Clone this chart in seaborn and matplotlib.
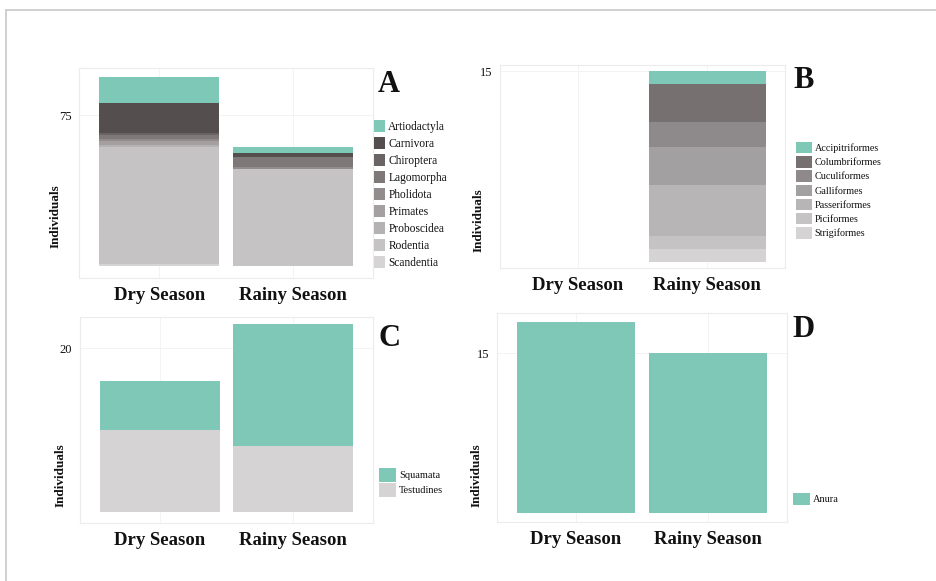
import matplotlib
matplotlib.use("Agg")
import matplotlib.pyplot as plt
import seaborn as sns
import pandas as pd
from matplotlib.lines import Line2D

# ---------------- data ----------------
seasons = ["Dry Season", "Rainy Season"]

mammal_orders = ["Artiodactyla", "Carnivora", "Chiroptera", "Lagomorpha", "Pholidota",
                 "Primates", "Proboscidea", "Rodentia", "Scandentia"]
mammal_dry = [13, 15, 1, 2, 1, 2, 1, 58, 1]
mammal_rainy = [3, 2, 0, 5, 1, 0, 0, 48, 0]
mammal_colors = ["#7dc8b6", "#544e4f", "#6b6465", "#7f7879", "#928c8d",
                 "#a4a0a1", "#b5b2b3", "#c6c3c4", "#d6d4d5"]

bird_orders = ["Accipitriformes", "Columbriformes", "Cuculiformes", "Galliformes",
               "Passeriformes", "Piciformes", "Strigiformes"]
bird_dry = [0, 0, 0, 0, 0, 0, 0]
bird_rainy = [1, 3, 2, 3, 4, 1, 1]
bird_colors = ["#7dc8b6", "#767071", "#8e898a", "#a3a0a1", "#b8b5b6", "#c6c3c4", "#d5d3d4"]

reptile_orders = ["Squamata", "Testudines"]
reptile_dry = [6, 10]
reptile_rainy = [15, 8]
reptile_colors = ["#7fc8b7", "#d5d3d4"]

amphib_orders = ["Anura"]
amphib_dry = [18]
amphib_rainy = [15]
amphib_colors = ["#7fc8b7"]

panel_letters = ["A", "B", "C", "D"]
yticks_panels = [[75], [15], [20], [15]]


def long_df(orders, dry, rainy):
    rows = []
    for o, d, r in zip(orders, dry, rainy):
        rows.append({"season": seasons[0], "order": o, "count": d})
        rows.append({"season": seasons[1], "order": o, "count": r})
    return pd.DataFrame(rows)


sns.set_theme(style="white")
SERIF = ["Liberation Serif", "DejaVu Serif"]
plt.rcParams["font.family"] = SERIF
plt.rcParams["text.color"] = "#111111"
plt.rcParams["xtick.color"] = "#cccccc"
plt.rcParams["ytick.color"] = "#cccccc"
plt.rcParams["xtick.labelcolor"] = "#111111"
plt.rcParams["ytick.labelcolor"] = "#111111"
plt.rcParams["axes.labelcolor"] = "#111111"

fig = plt.figure(figsize=(9.36, 5.81), dpi=100)
W, H = 936, 581


def px_axes(x0, y0, x1, y1):
    return fig.add_axes([x0 / W, 1 - y1 / H, (x1 - x0) / W, (y1 - y0) / H])


panels = [
    dict(box=(79, 68, 373, 278), ylim=(-5.96, 98.4), orders=mammal_orders, dry=mammal_dry,
         rainy=mammal_rainy, colors=mammal_colors, ylab=(-0.058, 0.295),
         leg=(1.003, 0.752), hl=0.95, hh=1.15, ls=0.38, fs=8.3, letter=(378, 92)),
    dict(box=(500, 65, 785, 268), ylim=(-0.5, 15.48), orders=bird_orders, dry=bird_dry,
         rainy=bird_rainy, colors=bird_colors, ylab=(-0.053, 0.236),
         leg=(1.040, 0.621), hl=1.5, hh=1.35, ls=0.28, fs=7.3, letter=(793, 88)),
    dict(box=(80, 317, 373, 523), ylim=(-1.38, 23.8), orders=reptile_orders, dry=reptile_dry,
         rainy=reptile_rainy, colors=reptile_colors, ylab=(-0.045, 0.233),
         leg=(1.022, 0.267), hl=1.6, hh=1.7, ls=0.05, fs=7.5, letter=(379, 346)),
    dict(box=(497, 313, 787, 522), ylim=(-0.87, 18.8), orders=amphib_orders, dry=amphib_dry,
         rainy=amphib_rainy, colors=amphib_colors, ylab=(-0.049, 0.222),
         leg=(1.021, 0.139), hl=1.6, hh=1.4, ls=0.2, fs=7.5, letter=(792, 337)),
]

for i, p in enumerate(panels):
    ax = px_axes(*p["box"])
    df = long_df(p["orders"], p["dry"], p["rainy"])
    pal = dict(zip(p["orders"], p["colors"]))
    sns.histplot(data=df, x="season", weights="count", hue="order",
                 hue_order=p["orders"], palette=pal, multiple="stack",
                 discrete=True, shrink=0.9, linewidth=0, alpha=1, ax=ax,
                 legend=True)
    ax.set_xlim(-0.6, 1.6)
    ax.set_ylim(*p["ylim"])
    ax.set_xticks([0, 1])
    ax.set_xticklabels(seasons, fontsize=13.5, fontweight="bold", family=SERIF)
    ax.set_yticks(yticks_panels[i])
    ax.set_yticklabels([str(v) for v in yticks_panels[i]], fontsize=9, family=SERIF)
    ax.tick_params(axis="both", length=2.5, width=0.6, pad=3)
    ax.tick_params(axis="x", pad=4)
    ax.set_xlabel("")
    ax.set_ylabel("Individuals", fontsize=9.5, fontweight="bold", family=SERIF)
    ax.yaxis.set_label_coords(*p["ylab"])
    ax.grid(True, color="#f3f3f3", linewidth=0.7)
    ax.set_axisbelow(True)
    for s in ax.spines.values():
        s.set_color("#ececec")
        s.set_linewidth(0.8)
    sns.move_legend(ax, loc="upper left", bbox_to_anchor=p["leg"], frameon=False,
                    title=None, fontsize=p["fs"], handlelength=p["hl"],
                    handleheight=p["hh"], labelspacing=p["ls"], handletextpad=0.3,
                    borderpad=0, borderaxespad=0)
    for t in ax.get_legend().get_texts():
        t.set_family(SERIF)
    lx, ly = p["letter"]
    fig.text(lx / W, 1 - ly / H, panel_letters[i], fontsize=22, fontweight="bold",
             family=SERIF, ha="left", va="baseline")

# outer frame (top and left edges)
fig.add_artist(Line2D([6 / W, 1.0], [1 - 10 / H, 1 - 10 / H], color="#c8c8c8", lw=1.2,
                      transform=fig.transFigure))
fig.add_artist(Line2D([6 / W, 6 / W], [0.0, 1 - 10 / H], color="#c8c8c8", lw=1.2,
                      transform=fig.transFigure))

fig.savefig("out.png", dpi=100)
